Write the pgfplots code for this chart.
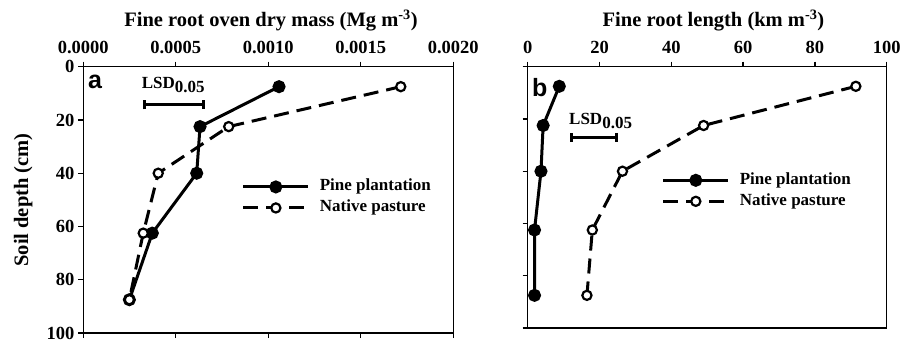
\documentclass[border=0pt]{standalone}
\usepackage{pgfplots}
\pgfplotsset{compat=1.18}
\usetikzlibrary{arrows.meta}
\usepackage{fontspec}
\setmainfont{Liberation Serif}
\newfontfamily\sansfont{Liberation Sans}
\pgfplotsset{
  myaxis/.style={
    scale only axis, ymin=0, ymax=100, y dir=reverse,
    axis line style={line width=1.3pt}, tick style={line width=1.3pt, black},
    tick align=outside, major tick length=5pt,
    xticklabel pos=upper, ytick pos=left,
    ytick={0,20,...,100},
    /pgf/number format/assume math mode=true,
    tick label style={font=\bfseries\fontsize{18.5}{18.5}\selectfont},
    xticklabel style={yshift=4pt},
    yticklabel style={xshift=-0.5pt},
    legend style={draw=none, fill=none, inner sep=0pt, row sep=5pt, column sep=10pt,
      nodes={inner sep=0pt, text height=12pt, text depth=4pt, anchor=west},
      font=\bfseries\fontsize{17}{17}\selectfont},
    legend cell align=left,
    legend image code/.code={\draw[mark repeat=2,mark phase=2,##1] plot coordinates {(0pt,0pt) (32.5pt,0pt) (65pt,0pt)};},
  },
  pine/.style={black, line width=3pt, mark=*, mark size=5pt, mark options={solid, fill=black}},
  native/.style={black, line width=3pt, dash pattern=on 15pt off 8pt, mark=*, mark size=4.6pt, mark options={solid, fill=white, line width=2.2pt}},
  lsd/.style={black, line width=2.8pt, {Bar[width=9pt,line width=2.8pt]}-{Bar[width=9pt,line width=2.8pt]}, mark=none},
}
\begin{document}
\begin{tikzpicture}[x=1pt,y=1pt]
\begin{axis}[myaxis, at={(83.3pt,10pt)}, anchor=south west, width=370pt, height=266.3pt,
  xmin=0, xmax=0.002, xtick={0,0.0005,0.001,0.0015,0.002}, xtick pos=both,
  scaled x ticks=false,
  xticklabel style={/pgf/number format/.cd, fixed, fixed zerofill, precision=4},
  legend style={at={(axis cs:0.000856,49.1)}, anchor=west}]
\addplot[pine] coordinates {(0.001058,7.5) (0.000631,22.5) (0.000613,40) (0.000373,62.5) (0.000249,87.5)};
\addlegendentry{Pine plantation}
\addplot[native] coordinates {(0.001716,7.5) (0.000786,22.5) (0.000405,40) (0.000324,62.5) (0.000249,87.5)};
\addlegendentry{Native pasture}
\addplot[lsd, forget plot] coordinates {(0.000324,14.3) (0.000658,14.3)};
\end{axis}
\begin{axis}[myaxis, at={(527.7pt,15pt)}, anchor=south west, width=359pt, height=261.3pt,
  xmin=0, xmax=100, xtick={0,20,...,100}, xtick pos=upper, yticklabels={},
  legend style={at={(axis cs:37.3,47.5)}, anchor=west}]
\addplot[pine] coordinates {(8.8,7.5) (4.3,22.5) (3.7,40) (1.9,62.5) (1.9,87.5)};
\addlegendentry{Pine plantation}
\addplot[native] coordinates {(91.4,7.5) (49.0,22.5) (26.4,40) (18.0,62.5) (16.5,87.5)};
\addlegendentry{Native pasture}
\addplot[lsd, forget plot] coordinates {(11.8,27) (25.1,27)};
\end{axis}
% titles and labels
\node[anchor=base, font=\bfseries\fontsize{20.5}{20.5}\selectfont, inner sep=0pt] at (271pt,316.3pt) {Fine root oven dry mass (Mg m\textsuperscript{-3})};
\node[anchor=base, font=\bfseries\fontsize{20.5}{20.5}\selectfont, inner sep=0pt] at (713.5pt,316.3pt) {Fine root length (km m\textsuperscript{-3})};
\node[rotate=90, font=\bfseries\fontsize{20.5}{20.5}\selectfont, inner sep=0pt] at (23.3pt,143pt) {Soil depth (cm)};
\node[anchor=base west, font=\sansfont\bfseries\fontsize{25}{25}\selectfont, inner sep=0pt] at (88pt,254.7pt) {a};
\node[anchor=base west, font=\sansfont\bfseries\fontsize{25}{25}\selectfont, inner sep=0pt] at (532pt,246.3pt) {b};
\node[anchor=base west, font=\bfseries\fontsize{17}{17}\selectfont, inner sep=0pt] at (141.7pt,254.7pt) {LSD\raisebox{-4.5pt}{0.05}};
\node[anchor=base west, font=\bfseries\fontsize{17}{17}\selectfont, inner sep=0pt] at (569pt,218pt) {LSD\raisebox{-4pt}{0.05}};
\pgfresetboundingbox
\path[use as bounding box] (0,0) rectangle (913pt,343pt);
\end{tikzpicture}
\end{document}
